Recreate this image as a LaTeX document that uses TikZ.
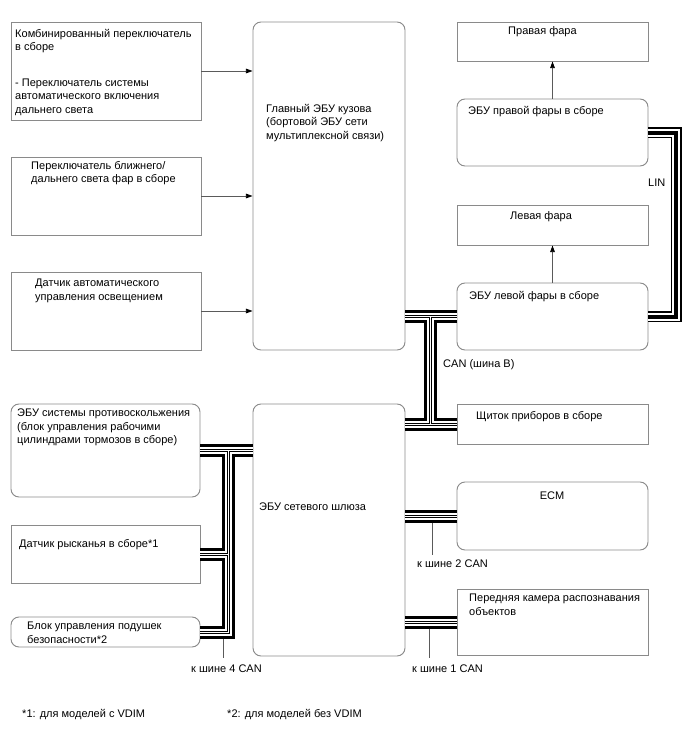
\documentclass[tikz,border=0pt]{standalone}
\usepackage{fontspec}
\setmainfont{Liberation Sans}
\usepackage{xcolor}
\usetikzlibrary{arrows.meta,fit,calc}
\definecolor{boxgray}{HTML}{8A8A8A}
\definecolor{wiregray}{HTML}{5A5A5A}

% twisted pair (CAN) and LIN harness, drawn layer over layer
\newcommand{\canbus}[1]{%
  \draw[line width=0.39cm] #1;
  \draw[line width=0.21cm,white] #1;
  \draw[line width=0.09cm] #1;
  \draw[line width=0.03cm,white] #1;}
\newcommand{\linbus}[1]{%
  \draw[line width=0.33cm] #1;
  \draw[line width=0.24cm,white] #1;
  \draw[line width=0.12cm] #1;}

\begin{document}
\begin{tikzpicture}[x=0.03cm,y=-0.03cm,
  box/.style={draw=boxgray,line width=0.8pt,inner sep=0pt},
  rbox/.style={box,rounded corners=0.24cm},
  txt/.style={anchor=base west,inner sep=0pt,align=left,
              font=\fontsize{9.4}{11.5}\selectfont},
  mtxt/.style={txt,anchor=north west},
  arr/.style={draw=wiregray,line width=0.7pt,
              -{Triangle[length=0.2cm,width=0.14cm,black]}},
  stub/.style={draw=wiregray,line width=0.8pt}
]
\useasboundingbox (0,0) rectangle (688,755);

% ---- SWITCHES / SENSORS (left top) ----
\node[box,fit={(11,22) (201,120)}]  (combo) {};
\node[box,fit={(11,157) (201,235)}] (hlsw) {};
\node[box,fit={(11,272) (201,350)}] (als) {};

% ---- MAIN BODY ECU ----
\node[rbox,fit={(253,22) (405,350)}] (mbecu) {};

% ---- HEADLAMPS (right) ----
\node[box,fit={(457,22) (648,61)}]    (rlamp) {};
\node[rbox,fit={(457,99) (648,166)}]  (recu) {};
\node[box,fit={(457,205) (648,245)}]  (llamp) {};
\node[rbox,fit={(457,283) (648,350)}] (lecu) {};

% ---- GATEWAY AND CAN NODES ----
\node[box,fit={(457,404) (648,444)}]  (meter) {};
\node[rbox,fit={(253,404) (405,656)}] (gw) {};
\node[rbox,fit={(457,482) (648,550)}] (ecm) {};
\node[box,fit={(457,589) (648,655)}]  (fcam) {};
\node[rbox,fit={(11,404) (200,497)}]  (skid) {};
\node[box,fit={(11,525) (200,583)}]   (yaw) {};
\node[rbox,fit={(11,617) (200,647)}]  (airbag) {};

% ---- TEXTS ----
\node[mtxt] (combo-t) at (15,29) {Комбинированный переключатель\\в сборе\\[0.66cm]- Переключатель системы\\автоматического включения\\дальнего света};
\node[mtxt] (hlsw-t)  at (31,161) {Переключатель ближнего/\\дальнего света фар в сборе};
\node[mtxt] (als-t)   at (35,279) {Датчик автоматического\\управления освещением};
\node[mtxt] (mbecu-t) at (266,104) {Главный ЭБУ кузова\\(бортовой ЭБУ сети\\мультиплексной связи)};
\node[txt] (rlamp-t) at (508,34) {Правая фара};
\node[txt] (recu-t)  at (468,114) {ЭБУ правой фары в сборе};
\node[txt] (llamp-t) at (510,219) {Левая фара};
\node[txt] (lecu-t)  at (469,299) {ЭБУ левой фары в сборе};
\node[txt] (meter-t) at (476,419) {Щиток приборов в сборе};
\node[txt] (gw-t)    at (259,510) {ЭБУ сетевого шлюза};
\node[txt,anchor=base] (ecm-t) at (552,499) {ECM};
\node[mtxt] (fcam-t)  at (469,594) {Передняя камера распознавания\\объектов};
\node[mtxt] (skid-t)  at (17,409) {ЭБУ системы противоскольжения\\(блок управления рабочими\\цилиндрами тормозов в сборе)};
\node[txt] (yaw-t)   at (19,547) {Датчик рысканья в сборе*1};
\node[mtxt] (airbag-t) at (27,622) {Блок управления подушек\\безопасности*2};

% ---- ARROWS ----
\draw[arr] (combo.east) -- (combo.east -| mbecu.west);
\draw[arr] (hlsw.east) -- (hlsw.east -| mbecu.west);
\draw[arr] (als.east) -- (als.east -| mbecu.west);
\draw[arr] (recu.north) -- (rlamp.south);
\draw[arr] (lecu.north) -- (llamp.south);

% ---- BUS LABELS ----
\node[txt] (lin)  at (648,186) {LIN};
\node[txt] (canb) at (443,367) {CAN (шина B)};
\node[txt] (can2) at (417,567) {к шине 2 CAN};
\node[txt] (can1) at (412,672) {к шине 1 CAN};
\node[txt] (can4) at (191,672) {к шине 4 CAN};

\coordinate (jcanb) at (430,0);
\coordinate (jcan4) at (228,0);
\coordinate (jlin)  at (676,0);
\coordinate (s2) at (432,555);
\coordinate (s1) at (429,658);
\coordinate (s4) at (223,658);

% ---- STUBS TO OTHER BUSES ----
\draw[stub] (ecm.west -| s2) -- (s2);
\draw[stub] (fcam.west -| s1) -- (s1);
\draw[stub] (airbag.east -| s4) -- (s4);

% ---- BUSES ----
\canbus{(mbecu.east |- lecu.west) -- (lecu.west)
        (lecu.west -| jcanb) -- (meter.west -| jcanb)
        (gw.east |- meter.west) -- (meter.west)
        (gw.east |- ecm.west) -- (ecm.west)
        (gw.east |- fcam.west) -- (fcam.west)
        (skid.east) -- (skid.east -| gw.west)
        (skid.east -| jcan4) -- (airbag.east -| jcan4) -- (airbag.east)
        (yaw.east) -- (yaw.east -| jcan4)}
\linbus{(recu.east) -- (recu.east -| jlin) -- (lecu.east -| jlin) -- (lecu.east)}

% ---- NOTES ----
\node[txt] (fn1) at (22,717) {*1: для моделей с VDIM};
\node[txt] (fn2) at (227,717) {*2: для моделей без VDIM};

\end{tikzpicture}
\end{document}
